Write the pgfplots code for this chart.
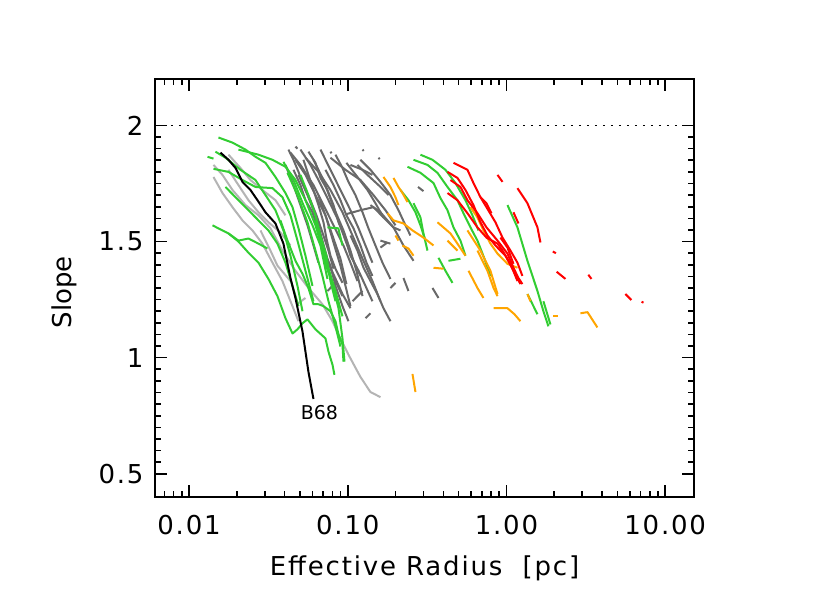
\documentclass[border=0pt]{standalone}
\usepackage{fontspec}
\setmainfont{DejaVu Sans}[LetterSpace=7]
\newfontfamily\plainfont{DejaVu Sans}
\usepackage{pgfplots}
\pgfplotsset{compat=1.18}
\definecolor{cGreen}{RGB}{50,205,50}
\definecolor{cDark}{RGB}{105,105,105}
\definecolor{cLight}{RGB}{180,180,180}
\definecolor{cOrange}{RGB}{255,165,0}
\definecolor{cRed}{RGB}{255,0,0}
\pgfplotsset{
  gr/.style={cGreen, line width=1pt, line join=round},
  dk/.style={cDark, line width=1pt, line join=round},
  lg/.style={cLight, line width=1pt, line join=round},
  og/.style={cOrange, line width=1pt, line join=round},
  rd/.style={cRed, line width=1pt, line join=round},
}
\begin{document}
\begin{tikzpicture}
\path[use as bounding box] (-77.5pt,-55.5pt) rectangle (337.5pt,248.5pt);
\begin{axis}[
  at={(0,0)}, anchor=south west,
  scale only axis, width=269.5pt, height=209pt,
  xmode=log, xmin=0.0061, xmax=15.2, ymin=0.4, ymax=2.2,
  xtick={0.01,0.1,1,10}, xticklabels={0.01,0.10,1.00,10.00},
  minor xtick={0.007,0.008,0.009,0.02,0.03,0.04,0.05,0.06,0.07,0.08,0.09,
    0.2,0.3,0.4,0.5,0.6,0.7,0.8,0.9,2,3,4,5,6,7,8,9},
  ytick={0.5,1,1.5,2}, yticklabels={0.5,1,1.5,2}, minor y tick num=9,
  tick align=inside, major tick length=6pt, minor tick length=3pt,
  every tick/.style={black, line width=0.8pt},
  axis line style={line width=0.9pt},
  font=\fontsize{13}{15}\selectfont,
  tick label style={font=\fontsize{13}{15}\selectfont},
  xticklabel style={yshift=-5.7pt},
  yticklabel style={xshift=-2.2pt},
  xlabel={Effective Radius\ \ [pc]}, ylabel={\plainfont Slope},
  every axis x label/.style={at={(axis description cs:0.5,-0.170)}, anchor=center},
  every axis y label/.style={at={(axis description cs:-0.169,0.49)}, rotate=90, anchor=center},
]
% reference slope
\addplot[black, line width=0.8pt, dash pattern=on 0.8pt off 3.2pt] coordinates {(0.0061,2) (15.2,2)};

% light grey
\addplot[lg] coordinates {(0.01425,1.830) (0.01624,1.787) (0.01878,1.722) (0.02267,1.657) (0.02738,1.613) (0.03258,1.557) (0.03876,1.461) (0.04682,1.374) (0.05653,1.300) (0.06925,1.230) (0.08010,1.157) (0.08740,1.100) (0.1010,1.013) (0.1202,0.917) (0.1390,0.852) (0.1607,0.830)};
\addplot[lg] coordinates {(0.01425,1.778) (0.01624,1.709) (0.01878,1.648) (0.02170,1.591) (0.02509,1.548) (0.02898,1.491) (0.03355,1.409) (0.03876,1.330) (0.04355,1.243) (0.04893,1.157)};
\addplot[lg] coordinates {(0.01771,1.874) (0.02108,1.817) (0.02437,1.765) (0.02898,1.722) (0.03503,1.678) (0.04050,1.613)};
\addplot[lg] coordinates {(0.01771,1.809) (0.02048,1.743) (0.02367,1.678) (0.02738,1.626) (0.03164,1.583) (0.03766,1.539) (0.04355,1.483)};
\addplot[lg] coordinates {(0.02818,1.548) (0.03258,1.461) (0.03606,1.396) (0.04355,1.330)};
\addplot[lg] coordinates {(0.04893,1.235) (0.05414,1.257)};

% dark grey
\addplot[dk] coordinates {(0.04355,1.883) (0.05034,1.830) (0.06080,1.743) (0.07030,1.657) (0.08130,1.570) (0.09397,1.483) (0.1040,1.409) (0.1151,1.330)};
\addplot[dk] coordinates {(0.04682,1.852) (0.05414,1.787) (0.06259,1.700) (0.07237,1.613) (0.08130,1.513) (0.08996,1.426) (0.09807,1.317)};
\addplot[dk] coordinates {(0.05034,1.896) (0.05821,1.830) (0.06537,1.765) (0.07560,1.678) (0.08720,1.591) (0.09672,1.504) (0.1071,1.426) (0.1202,1.352)};
\addplot[dk] coordinates {(0.05414,1.861) (0.06537,1.800) (0.07781,1.722) (0.09261,1.626) (0.1071,1.526) (0.1239,1.426) (0.1430,1.330) (0.1607,1.243)};
\addplot[dk] coordinates {(0.06080,1.852) (0.07030,1.765) (0.08130,1.648) (0.09397,1.548) (0.1040,1.461) (0.1134,1.374) (0.1239,1.265)};
\addplot[dk] coordinates {(0.09807,1.839) (0.1151,1.778) (0.1331,1.722) (0.1494,1.665) (0.1679,1.604) (0.1942,1.561) (0.2148,1.548)};
\addplot[dk] coordinates {(0.07781,1.861) (0.09672,1.809) (0.1202,1.765) (0.1452,1.700) (0.1728,1.635) (0.1998,1.570)};
\addplot[dk] coordinates {(0.09672,1.617) (0.1202,1.635) (0.1452,1.648) (0.1679,1.604)};
\addplot[dk] coordinates {(0.1040,1.526) (0.1151,1.461) (0.1257,1.387) (0.1390,1.330) (0.1537,1.274) (0.1679,1.213) (0.1858,1.157)};
\addplot[dk] coordinates {(0.06537,1.700) (0.07341,1.600) (0.08130,1.496) (0.08996,1.396) (0.09672,1.309) (0.1040,1.222)};
\addplot[dk] coordinates {(0.1607,1.474) (0.1779,1.496)};
\addplot[dk] coordinates {(0.1858,1.300) (0.1998,1.322)};
\addplot[dk] coordinates {(0.2244,1.343) (0.2413,1.287)};
\addplot[dk] coordinates {(0.3420,1.300) (0.3730,1.257)};
\addplot[dk] coordinates {(0.1390,1.657) (0.1607,1.626) (0.1942,1.561) (0.2244,1.483) (0.2596,1.417)};
\addplot[dk] coordinates {(0.1607,1.504) (0.1858,1.491)};
\addplot[dk] coordinates {(0.2774,1.735) (0.2999,1.717)};
\addplot[dk] coordinates {(0.07781,1.387) (0.08505,1.330) (0.09261,1.274) (0.1040,1.213)};
\addplot[dk] coordinates {(0.04050,1.830) (0.04548,1.743) (0.05034,1.657) (0.05574,1.570) (0.06080,1.483) (0.06537,1.409)};
\addplot[dk] coordinates {(0.04893,1.787) (0.05574,1.700) (0.06259,1.613) (0.06925,1.504) (0.07560,1.409) (0.08367,1.330) (0.09261,1.265)};
\addplot[dk] coordinates {(0.06730,1.896) (0.07781,1.809) (0.08996,1.722) (0.1040,1.635) (0.1170,1.557) (0.1293,1.483) (0.1430,1.409)};
\addplot[dk] coordinates {(0.1151,1.830) (0.1331,1.787) (0.1563,1.743) (0.1807,1.700)};
\addplot[dk] coordinates {(0.1390,1.191) (0.1293,1.170)};
\addplot[dk] coordinates {(0.04228,1.896) (0.04548,1.852) (0.04893,1.800) (0.05257,1.743) (0.05821,1.678) (0.06350,1.613) (0.06925,1.539) (0.07560,1.461) (0.08130,1.383)};
\addplot[dk] coordinates {(0.05653,1.887) (0.06259,1.839) (0.06730,1.774) (0.07447,1.722) (0.08130,1.657) (0.08740,1.583) (0.09672,1.513) (0.1040,1.439) (0.1170,1.374) (0.1293,1.309) (0.1430,1.243)};
\addplot[dk] coordinates {(0.08367,1.874) (0.09261,1.817) (0.1010,1.757) (0.1118,1.700) (0.1239,1.626) (0.1350,1.557) (0.1494,1.483) (0.1655,1.409) (0.1858,1.339)};
\addplot[dk] coordinates {(0.04548,1.809) (0.05034,1.743) (0.05414,1.678) (0.05994,1.626) (0.06537,1.548) (0.07030,1.461) (0.07781,1.396) (0.08367,1.309) (0.09261,1.222) (0.1010,1.157)};
\addplot[dk] coordinates {(0.1202,1.852) (0.1390,1.809) (0.1607,1.757) (0.1858,1.700) (0.2087,1.635) (0.2310,1.570) (0.2484,1.526)};
\addplot[dk] coordinates {(0.07237,1.809) (0.08130,1.743) (0.08996,1.678) (0.09807,1.613) (0.1087,1.557) (0.1202,1.483) (0.1312,1.409) (0.1430,1.352)};
\addplot[dk] coordinates {(0.1040,1.830) (0.1239,1.809) (0.1430,1.787)};
\addplot[dk] coordinates {(0.05257,1.852) (0.05653,1.787) (0.06080,1.722) (0.06537,1.657) (0.07030,1.583) (0.07341,1.513) (0.07781,1.439) (0.08367,1.383) (0.09261,1.322)};
\addplot[dk] coordinates {(0.07447,1.287) (0.08367,1.322)};
\addplot[dk] coordinates {(0.1071,1.243) (0.1239,1.287)};
\addplot[dk] coordinates {(0.04682,1.909) (0.04821,1.900)};
\addplot[dk] coordinates {(0.07781,1.887) (0.07900,1.880)};
\addplot[dk] coordinates {(0.1239,1.896) (0.1260,1.890)};
\addplot[dk] coordinates {(0.1563,1.861) (0.1590,1.855)};

% green
\addplot[gr] coordinates {(0.01532,1.948) (0.01878,1.926) (0.02267,1.896) (0.02621,1.865) (0.03030,1.839) (0.03503,1.778) (0.04050,1.709) (0.04486,1.648) (0.04893,1.557) (0.05414,1.439) (0.05994,1.309)};
\addplot[gr] coordinates {(0.01307,1.865) (0.01425,1.857)};
\addplot[gr] coordinates {(0.01425,1.813) (0.01771,1.800) (0.02170,1.765) (0.02621,1.735) (0.03355,1.730) (0.03876,1.691) (0.04355,1.613) (0.04821,1.504) (0.05414,1.374) (0.06080,1.243)};
\addplot[gr] coordinates {(0.02048,1.896) (0.02738,1.874) (0.03355,1.852) (0.04050,1.822) (0.04682,1.765) (0.05414,1.678) (0.06259,1.570) (0.07237,1.426) (0.08367,1.287) (0.09261,1.178)};
\addplot[gr] coordinates {(0.01696,1.735) (0.01961,1.691) (0.02367,1.635) (0.02738,1.591) (0.03164,1.548) (0.03606,1.491) (0.04050,1.409) (0.04486,1.309) (0.04893,1.222)};
\addplot[gr] coordinates {(0.01405,1.570) (0.01577,1.552) (0.01771,1.535) (0.02048,1.500) (0.02367,1.452) (0.02738,1.409) (0.03164,1.339) (0.03606,1.265) (0.04050,1.170) (0.04486,1.104) (0.04821,1.122) (0.05184,1.148) (0.05574,1.165) (0.06259,1.122) (0.07237,1.083) (0.07560,1.026) (0.08010,0.970) (0.08246,0.926)};
\addplot[gr] coordinates {(0.01771,1.535) (0.02048,1.504) (0.02367,1.513) (0.02738,1.491) (0.03118,1.470)};
\addplot[gr] coordinates {(0.03766,1.591) (0.04170,1.504) (0.04682,1.417) (0.05184,1.361) (0.05653,1.300) (0.06080,1.230) (0.06537,1.230) (0.07030,1.222) (0.07781,1.200) (0.08367,1.157) (0.08740,1.100) (0.09261,1.057) (0.09397,0.983)};
\addplot[gr] coordinates {(0.06259,1.591) (0.06730,1.504) (0.07237,1.404) (0.08010,1.317) (0.08740,1.213) (0.09261,1.083) (0.09535,0.983)};
\addplot[gr] coordinates {(0.03932,1.843) (0.04548,1.765) (0.05257,1.657) (0.05994,1.570) (0.06730,1.483) (0.07447,1.339)};
\addplot[gr] coordinates {(0.07447,1.561) (0.08720,1.557) (0.09261,1.483)};
\addplot[gr] coordinates {(0.01466,1.887) (0.01696,1.861) (0.02108,1.809) (0.02621,1.765) (0.03030,1.700) (0.03503,1.635) (0.03932,1.548) (0.04355,1.439) (0.04821,1.309) (0.05184,1.200)};
\addplot[gr] coordinates {(0.04170,1.796) (0.04821,1.700) (0.05574,1.583) (0.06259,1.461) (0.06925,1.352) (0.07560,1.243) (0.08367,1.135) (0.08996,1.048)};
\addplot[gr] coordinates {(0.05034,1.787) (0.05653,1.700) (0.06259,1.613) (0.06730,1.526) (0.07341,1.439) (0.07781,1.330) (0.08367,1.243)};
\addplot[gr] coordinates {(0.2596,1.852) (0.3180,1.830) (0.3675,1.796) (0.4251,1.735) (0.4911,1.678) (0.5358,1.622) (0.5931,1.561) (0.6566,1.504) (0.7268,1.426) (0.7928,1.352)};
\addplot[gr] coordinates {(0.2379,1.822) (0.2871,1.796) (0.3470,1.752) (0.3838,1.687) (0.4251,1.635) (0.4636,1.561) (0.5130,1.504) (0.5516,1.439)};
\addplot[gr] coordinates {(0.2596,1.665) (0.2871,1.604) (0.2999,1.535) (0.3180,1.461)};
\addplot[gr] coordinates {(0.3730,1.430) (0.4127,1.374) (0.4570,1.322)};
\addplot[gr] coordinates {(0.4312,1.417) (0.5130,1.426)};
\addplot[gr] coordinates {(1.015,1.657) (1.173,1.561) (1.356,1.417) (1.568,1.287) (1.710,1.200) (1.838,1.135)};
\addplot[gr] coordinates {(1.356,1.274) (1.568,1.187)};
\addplot[gr] coordinates {(1.710,1.243) (1.893,1.143)};
\addplot[gr] coordinates {(0.2871,1.874) (0.3420,1.852) (0.4127,1.809) (0.4771,1.752) (0.5516,1.678) (0.6104,1.613) (0.6660,1.548)};
\addplot[gr] coordinates {(0.2148,1.722) (0.2413,1.678) (0.2671,1.626) (0.2871,1.570) (0.3087,1.504)};

% orange
\addplot[og] coordinates {(0.1679,1.778) (0.1858,1.735) (0.1998,1.691) (0.2087,1.657)};
\addplot[og] coordinates {(0.1942,1.774) (0.2087,1.735) (0.2212,1.709) (0.2379,1.670)};
\addplot[og] coordinates {(0.1779,1.622) (0.1942,1.591) (0.2244,1.578) (0.2557,1.548) (0.2999,1.517) (0.3470,1.483)};
\addplot[og] coordinates {(0.1998,1.526) (0.2087,1.504)};
\addplot[og] coordinates {(0.2212,1.483) (0.2413,1.470) (0.2596,1.439)};
\addplot[og] coordinates {(0.3470,1.387) (0.4011,1.383)};
\addplot[og] coordinates {(0.4251,1.504) (0.4911,1.461)};
\addplot[og] coordinates {(0.5768,1.374) (0.6566,1.300) (0.7161,1.257)};
\addplot[og] coordinates {(0.6566,1.461) (0.7591,1.374) (0.8293,1.300) (0.8784,1.265)};
\addplot[og] coordinates {(0.8293,1.213) (1.015,1.213) (1.123,1.187) (1.225,1.157)};
\addplot[og] coordinates {(0.3675,1.583) (0.4437,1.535) (0.4911,1.491) (0.5516,1.439)};
\addplot[og] coordinates {(0.5677,1.548) (0.6857,1.461) (0.7928,1.374) (0.8784,1.274)};
\addplot[og] coordinates {(0.5931,1.648) (0.6566,1.604) (0.7161,1.548) (0.7928,1.491) (0.8784,1.448) (1.015,1.404) (1.173,1.387)};
\addplot[og] coordinates {(1.356,1.274) (1.416,1.243)};
\addplot[og] coordinates {(1.973,1.178) (2.127,1.178)};
\addplot[og] coordinates {(2.926,1.191) (3.241,1.196) (3.742,1.130)};
\addplot[og] coordinates {(0.2557,0.930) (0.2671,0.852)};

% red
\addplot[rd] coordinates {(0.4636,1.839) (0.5679,1.809) (0.6196,1.752) (0.6857,1.691) (0.7484,1.648) (0.8525,1.583) (0.9442,1.517) (1.060,1.461) (1.173,1.409) (1.260,1.352)};
\addplot[rd] coordinates {(0.4437,1.765) (0.5130,1.735) (0.5679,1.678) (0.6566,1.622) (0.7484,1.561) (0.8784,1.504) (1.015,1.448) (1.107,1.387) (1.190,1.343) (1.260,1.317)};
\addplot[rd] coordinates {(0.4251,1.709) (0.4911,1.678) (0.5679,1.622) (0.6566,1.561) (0.7484,1.517) (0.8784,1.491) (0.9442,1.461) (1.060,1.404) (1.173,1.330)};
\addplot[rd] coordinates {(0.4251,1.800) (0.4911,1.774) (0.5516,1.722) (0.6196,1.657) (0.6857,1.583) (0.7590,1.526) (0.8525,1.483) (0.9856,1.439) (1.107,1.374) (1.225,1.317)};
\addplot[rd] coordinates {(0.6857,1.691) (0.7484,1.665) (0.8038,1.622)};
\addplot[rd] coordinates {(0.9166,1.517) (1.015,1.474) (1.107,1.404)};
\addplot[rd] coordinates {(0.8784,1.787) (0.9442,1.757)};
\addplot[rd] coordinates {(1.173,1.730) (1.356,1.665) (1.568,1.561) (1.637,1.496)};
\addplot[rd] coordinates {(1.107,1.626) (1.190,1.578)};
\addplot[rd] coordinates {(1.96,1.457) (2.05,1.450)};
\addplot[rd] coordinates {(2.072,1.370) (2.354,1.339)};
\addplot[rd] coordinates {(3.280,1.357) (3.434,1.339)};
\addplot[rd] coordinates {(5.62,1.274) (6.13,1.248)};
\addplot[rd] coordinates {(7.1,1.241) (7.3,1.237)};

% B68
\addplot[black, line width=1pt, line join=round] coordinates {(0.01577,1.883) (0.01772,1.852) (0.01961,1.817) (0.02170,1.757) (0.02437,1.722) (0.02698,1.678) (0.03030,1.626) (0.03503,1.578) (0.03932,1.491) (0.04355,1.343) (0.04682,1.257) (0.05184,1.113) (0.05653,0.939) (0.06080,0.822)};
\node[font=\plainfont\fontsize{9.5}{11}\selectfont, anchor=center] at (axis cs:0.0663,0.765) {B68};
\end{axis}
\end{tikzpicture}
\end{document}
